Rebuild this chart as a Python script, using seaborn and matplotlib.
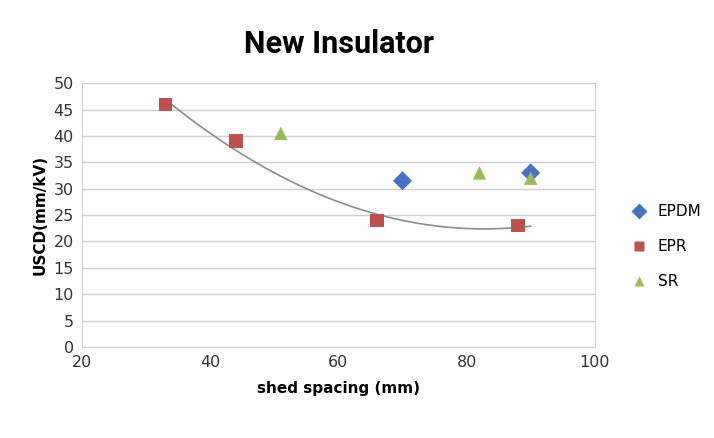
import numpy as np
import pandas as pd
import matplotlib
matplotlib.use("Agg")
import matplotlib.pyplot as plt
import seaborn as sns

# data
epdm_x = [70, 90]
epdm_y = [31.5, 33]
epr_x = [33, 44, 66, 88]
epr_y = [46, 39, 24, 23]
sr_x = [51, 82, 90]
sr_y = [40.5, 33, 32]

df = pd.concat([
    pd.DataFrame({"x": epdm_x, "y": epdm_y, "s": "EPDM"}),
    pd.DataFrame({"x": epr_x, "y": epr_y, "s": "EPR"}),
    pd.DataFrame({"x": sr_x, "y": sr_y, "s": "SR"}),
])

fig = plt.figure(figsize=(7.14, 4.38), dpi=100)
ax = fig.add_axes([0.115, 0.208, 0.718, 0.602])

# polynomial trend line on EPR
coef = np.polyfit(epr_x, epr_y, 2)
xs = np.linspace(33, 90, 100)
ax.plot(xs, np.polyval(coef, xs), color="#8c8c8c", lw=1.2, zorder=2)

sns.scatterplot(data=df, x="x", y="y", hue="s", style="s",
                palette={"EPDM": "#4472c4", "EPR": "#c0504d", "SR": "#9bbb59"},
                markers={"EPDM": "D", "EPR": "s", "SR": "^"},
                s=95, edgecolor="none", ax=ax, zorder=3)

ax.set_xlim(20, 100)
ax.set_ylim(0, 50)
ax.set_xticks(range(20, 101, 20))
ax.set_yticks(range(0, 51, 5))
ax.yaxis.grid(True, color="#d0d0d0", lw=1)
ax.set_axisbelow(True)
for sp in ax.spines.values():
    sp.set_color("#d0d0d0")
ax.tick_params(length=0, labelsize=11.5, colors="#333333", pad=6)
ax.set_xlabel("shed spacing (mm)", fontsize=11, fontweight="bold", labelpad=8)
ax.set_ylabel("USCD(mm/kV)", fontsize=11, fontweight="bold")

handles, labels = ax.get_legend_handles_labels()
ax.legend(handles, labels, loc="center left", bbox_to_anchor=(1.03, 0.38),
          frameon=False, fontsize=11, handletextpad=0.2, labelspacing=1.3,
          markerscale=0.8)

fig.text(0.475, 0.9, "New Insulator", ha="center", va="center",
         fontsize=22, fontweight="bold", fontstretch="condensed",
         family="Roboto")

fig.savefig("out.png", dpi=100)
